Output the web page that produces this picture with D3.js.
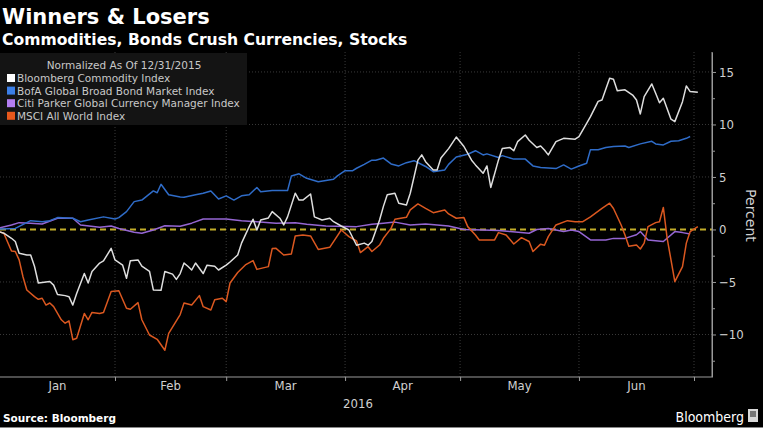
<!DOCTYPE html>
<html><head><meta charset="utf-8">
<script src="https://cdn.jsdelivr.net/npm/d3@7"></script>
<style>
html,body{margin:0;padding:0;background:#000;}
svg{display:block;}
</style></head>
<body>
<svg id="chart" width="763" height="428"></svg>
<script>
// ---- DATA (days after 2015-12-31, percent change) ----
const seriesNames = ["Bloomberg Commodity Index","BofA Global Broad Bond Market Index","Citi Parker Global Currency Manager Index","MSCI All World Index"];
const monthLabels = ["Jan","Feb","Mar","Apr","May","Jun"];
const yTickValues = [-10,-5,0,5,10,15];
const yMinorTicks = [-12.5,-7.5,-2.5,2.5,7.5,12.5];

const commodityDays = [0,3,5,6,7,9,10,11,12,14,15,16,17,19,20,21,22,24,25,26,28,29,31,32,34,35,36,38,39,41,42,44,45,47,48,49,50,51,52,53,55,56,58,59,61,62,64,65,67,68,69,70,72,73,75,76,77,79,80,81,83,84,86,88,89,91,93,95,97,98,99,101,102,103,105,106,108,109,111,112,113,115,116,117,119,121,123,125,126,128,129,130,132,133,135,136,137,139,140,142,143,144,145,147,149,152,153,155,156,158,159,161,162,163,165,167,168,169,170,172,173,174,175,177,178,180,181,182,184];
const commodityValues = [0,-0.36,-0.84,-1.15,-2.27,-2.43,-2.43,-3.5,-5.1,-5.0,-4.95,-5.3,-6.2,-6.3,-6.4,-7.2,-6.1,-4.2,-5.1,-4.0,-3.2,-3.0,-1.8,-2.9,-3.4,-4.65,-2.97,-2.9,-3.5,-4.0,-5.76,-5.8,-4.0,-4.25,-4.75,-4.2,-3.2,-3.5,-3.86,-3.2,-4.2,-3.4,-3.5,-3.86,-3.4,-3.1,-2.43,-1.3,0.27,0.97,-0.05,0.9,1.1,1.7,1.07,0.43,1.2,3.45,2.8,2.8,3.38,1.2,0.9,1.07,0.74,0.33,-0.05,-1.5,-1.3,-1.5,-1.15,0.9,2.2,3.3,3.45,2.5,2.33,3.45,6.6,7.1,6.45,5.67,5.67,6.8,7.7,8.8,7.9,6.6,6.15,5.35,6.05,4.0,6.6,7.7,7.8,7.5,8.36,9.0,8.5,7.8,7.95,7.57,7.1,8.36,8.68,8.6,8.84,10.1,10.74,12.2,12.33,14.4,14.3,13.2,13.3,12.8,12.33,11.0,12.65,13.86,12.97,12.07,12.5,10.5,10.27,12.17,13.67,13.13,13.07];

const bondDays = [0,6,10,13,15,17,21,23,25,29,32,33,35,37,39,42,43,44,46,49,50,53,55,57,59,61,63,65,67,69,70,73,77,78,80,82,85,89,90,92,94,95,97,99,100,102,104,106,108,110,113,115,118,119,121,124,126,128,129,132,133,136,139,141,143,147,149,151,153,155,156,158,160,162,165,166,169,172,173,175,177,179,181,182];
const bondValues = [0,0.1,0.84,0.74,0.84,1.13,1.07,0.74,0.9,1.2,1.0,1.13,1.7,2.65,2.8,3.67,3.5,4.3,3.3,3.1,3.06,3.3,3.45,3.67,2.9,3.2,2.8,3.2,3.3,4.0,3.6,3.7,3.7,5.1,5.3,4.87,4.55,4.78,5.1,5.6,5.6,5.83,6.2,6.6,6.6,6.8,6.24,6.05,6.36,6.55,6.0,5.5,5.67,6.2,6.9,7.16,7.5,7.1,7.2,6.85,7.03,6.7,6.7,6.05,5.9,5.8,6.15,5.75,6.05,6.3,7.6,7.6,7.8,7.9,7.95,7.8,8.15,8.4,8.15,8.05,8.4,8.45,8.68,8.85];

const currencyDays = [0,5,7,10,13,17,21,23,28,31,33,37,39,42,45,49,52,55,61,65,69,74,79,82,87,95,99,102,105,109,113,119,123,128,132,135,140,142,145,149,151,153,156,160,162,165,168,169,171,175,178,180,182];
const currencyValues = [0,0.43,0.65,0.6,0.52,1.07,1.07,0.43,0.2,0.33,0.1,-0.27,-0.36,-0.05,0.36,0.3,0.6,1.0,1.0,0.84,0.74,0.6,0.65,0.5,0.33,0.27,0.5,0.6,0.7,0.43,0.52,0.33,0.0,-0.05,-0.1,-0.2,-0.36,0.0,0.1,-0.2,-0.05,-0.2,-1.0,-1.0,-0.85,-0.85,-0.5,-0.2,-1.0,-1.15,-0.2,-0.3,-0.43];

const stockDays = [0,3,5,6,7,8,9,11,12,13,14,15,16,18,19,20,21,22,24,25,26,28,29,31,33,35,36,38,39,41,43,45,46,49,50,52,54,55,57,58,60,61,62,64,66,68,69,72,73,74,76,78,79,81,83,85,88,89,91,92,93,95,96,98,99,101,102,104,105,108,109,111,113,115,118,119,121,123,124,126,127,131,132,134,136,138,140,141,143,144,145,147,150,152,154,156,159,161,162,164,165,166,168,169,170,171,173,174,175,176,177,178,180,181,182,184];
const stockValues = [0,-0.36,-2.05,-2.1,-2.9,-4.5,-5.76,-6.4,-6.65,-6.55,-7.2,-7.0,-7.35,-8.6,-8.93,-8.7,-10.5,-10.36,-8.0,-8.6,-7.9,-8.0,-7.9,-5.9,-5.83,-7.5,-7.6,-6.97,-8.6,-10.05,-10.46,-11.5,-9.9,-8.1,-7.0,-7.2,-6.3,-7.35,-7.67,-6.7,-6.55,-6.87,-5.1,-4.1,-3.38,-2.97,-3.8,-3.54,-1.82,-1.8,-2.43,-2.33,-0.62,-0.52,-0.62,-1.9,-1.7,-1.15,-0.05,-0.36,-0.68,-1.1,-2.2,-1.64,-2.1,-1.48,-0.84,0.1,0.97,1.16,1.86,2.43,2.0,1.6,1.86,1.48,1.07,1.13,0.27,-0.52,-1.0,-1.0,-0.3,-0.52,-1.38,-0.78,-1.15,-2.1,-1.4,-1.5,-0.68,0.43,0.84,0.74,0.74,1.2,2.0,2.5,2.0,0.43,-0.52,-1.6,-1.48,-1.86,-1.3,0.27,0.65,0.74,2.1,-0.84,-2.9,-4.97,-3.54,-1.3,-0.2,0.27];

// ---- SETUP ----
const W = 763, H = 428;
const svg = d3.select("#chart");
const base = Date.UTC(2015, 11, 31);
const toDate = d => new Date(base + d * 86400000);

const plotLeft = 0, plotRight = 712, plotTop = 52, plotBottom = 377;
const x = d3.scaleUtc()
  .domain([toDate(0), new Date(Date.UTC(2016, 6, 1))])
  .range([-7.7, 694]);
const y = d3.scaleLinear().domain([-14.05, 16.9]).range([plotBottom, plotTop]);

const colors = ["#dedede", "#2f6cc8", "#9566d3", "#db5820"];
const swatch = ["#ffffff", "#3b7fe8", "#b47ef2", "#e8581c"];

svg.append("rect").attr("width", W).attr("height", H).attr("fill", "#000");

svg.append("defs").append("clipPath").attr("id", "clip")
  .append("rect").attr("x", plotLeft).attr("y", plotTop)
  .attr("width", plotRight - plotLeft).attr("height", plotBottom - plotTop);

// grid
const grid = svg.append("g");
const monthStarts = d3.utcMonth.range(new Date(Date.UTC(2016, 1, 1)), new Date(Date.UTC(2016, 6, 2)));
grid.selectAll("line.v").data(monthStarts).join("line")
  .attr("x1", d => x(d)).attr("x2", d => x(d))
  .attr("y1", plotTop).attr("y2", plotBottom)
  .attr("stroke", "#3a3a3a").attr("stroke-width", 1).attr("stroke-dasharray", "1,2");
grid.selectAll("line.h").data(yTickValues.filter(v => v !== 0)).join("line")
  .attr("x1", plotLeft).attr("x2", plotRight)
  .attr("y1", d => y(d)).attr("y2", d => y(d))
  .attr("stroke", "#3a3a3a").attr("stroke-width", 1).attr("stroke-dasharray", "1,2");

// zero dashed line
svg.append("line")
  .attr("x1", plotLeft).attr("x2", plotRight)
  .attr("y1", y(0)).attr("y2", y(0))
  .attr("stroke", "#c2ad2a").attr("stroke-width", 2).attr("stroke-dasharray", "6,4");

// lines
const allSeries = [
  {days: currencyDays, vals: currencyValues, c: colors[2]},
  {days: bondDays, vals: bondValues, c: colors[1]},
  {days: stockDays, vals: stockValues, c: colors[3]},
  {days: commodityDays, vals: commodityValues, c: colors[0]}
];
const line = d3.line().x(d => x(d[0])).y(d => y(d[1]));
const lg = svg.append("g").attr("clip-path", "url(#clip)");
allSeries.forEach(s => {
  const pts = s.days.map((d, i) => [toDate(d), s.vals[i]]);
  lg.append("path").datum(pts).attr("d", line)
    .attr("fill", "none").attr("stroke", s.c).attr("stroke-width", 1.5)
    .attr("stroke-linejoin", "round");
});

// right axis
const axisFont = "'Liberation Sans Narrow','DejaVu Sans Condensed','Liberation Sans',sans-serif";
const yAxis = svg.append("g").attr("transform", `translate(${plotRight},0)`)
  .call(d3.axisRight(y).tickValues(yTickValues).tickSize(4).tickPadding(3).tickSizeOuter(0));
yAxis.select(".domain").attr("stroke", "#9a9a9a");
yAxis.selectAll(".tick line").attr("stroke", "#9a9a9a");
yAxis.selectAll("text").attr("fill", "#d0d0d0").attr("font-size", 13).attr("font-family", axisFont);
const yMinor = svg.append("g").attr("transform", `translate(${plotRight},0)`)
  .call(d3.axisRight(y).tickValues(yMinorTicks).tickSize(3).tickFormat(""));
yMinor.select(".domain").remove();
yMinor.selectAll(".tick line").attr("stroke", "#9a9a9a");

svg.append("text").text("Percent")
  .attr("transform", `translate(746,${y(0) - 14}) rotate(90)`)
  .attr("text-anchor", "middle").attr("fill", "#d0d0d0")
  .attr("font-size", 14).attr("font-family", "'DejaVu Sans',sans-serif");

// bottom axis
const xAxis = svg.append("g").attr("transform", `translate(0,${plotBottom})`)
  .call(d3.axisBottom(x).tickValues(monthStarts).tickSize(4).tickFormat("").tickSizeOuter(0));
xAxis.select(".domain").attr("d", `M${plotLeft},0H${plotRight}V${plotTop - plotBottom}`).attr("stroke", "#9a9a9a");
xAxis.selectAll(".tick line").attr("stroke", "#9a9a9a");

const bounds = [plotLeft, ...monthStarts.map(d => x(d))];
svg.append("g").selectAll("text").data(monthLabels).join("text")
  .attr("x", (d, i) => (bounds[i] + bounds[i + 1]) / 2)
  .attr("y", 390)
  .attr("text-anchor", "middle").attr("fill", "#d0d0d0")
  .attr("font-size", 13).attr("font-family", axisFont)
  .text(d => d);
svg.append("text").text("2016").attr("x", 358).attr("y", 408)
  .attr("text-anchor", "middle").attr("fill", "#d0d0d0")
  .attr("font-size", 13).attr("font-family", axisFont);

// legend
const leg = svg.append("g");
leg.append("rect").attr("x", 0).attr("y", 53).attr("width", 247).attr("height", 72).attr("fill", "#141414");
leg.append("text").text("Normalized As Of 12/31/2015").attr("x", 124).attr("y", 69)
  .attr("text-anchor", "middle").attr("fill", "#c8c8c8").attr("font-size", 10.5)
  .attr("font-family", "'DejaVu Sans',sans-serif");
seriesNames.forEach((n, i) => {
  const yy = 78 + i * 12.6;
  leg.append("rect").attr("x", 7).attr("y", yy - 4).attr("width", 8).attr("height", 8).attr("fill", swatch[i]);
  leg.append("text").text(n).attr("x", 17).attr("y", yy + 4)
    .attr("fill", "#c8c8c8").attr("font-size", 10.5).attr("font-family", "'DejaVu Sans',sans-serif");
});

// titles
svg.append("text").text("Winners & Losers").attr("x", 2).attr("y", 24)
  .attr("fill", "#ffffff").attr("font-size", 21).attr("font-weight", "bold")
  .attr("font-family", "'DejaVu Sans',sans-serif");
svg.append("text").text("Commodities, Bonds Crush Currencies, Stocks").attr("x", 2).attr("y", 45)
  .attr("fill", "#ffffff").attr("font-size", 15.6).attr("font-weight", "bold")
  .attr("font-family", "'DejaVu Sans',sans-serif");

// footer
svg.append("text").text("Source: Bloomberg").attr("x", 3).attr("y", 422)
  .attr("fill", "#ffffff").attr("font-size", 10.5).attr("font-weight", "bold")
  .attr("font-family", "'DejaVu Sans',sans-serif");
svg.append("text").text("Bloomberg").attr("x", 744).attr("y", 422)
  .attr("text-anchor", "end").attr("fill", "#ffffff").attr("font-size", 14)
  .attr("font-family", axisFont);
svg.append("rect").attr("x", 748).attr("y", 409).attr("width", 10).attr("height", 13).attr("fill", "#d8d8d8");
svg.append("rect").attr("x", 750).attr("y", 411).attr("width", 6).attr("height", 6).attr("fill", "#777");
svg.append("line").attr("x1", 0).attr("x2", W).attr("y1", 427.5).attr("y2", 427.5).attr("stroke", "#888");
</script>
</body></html>
